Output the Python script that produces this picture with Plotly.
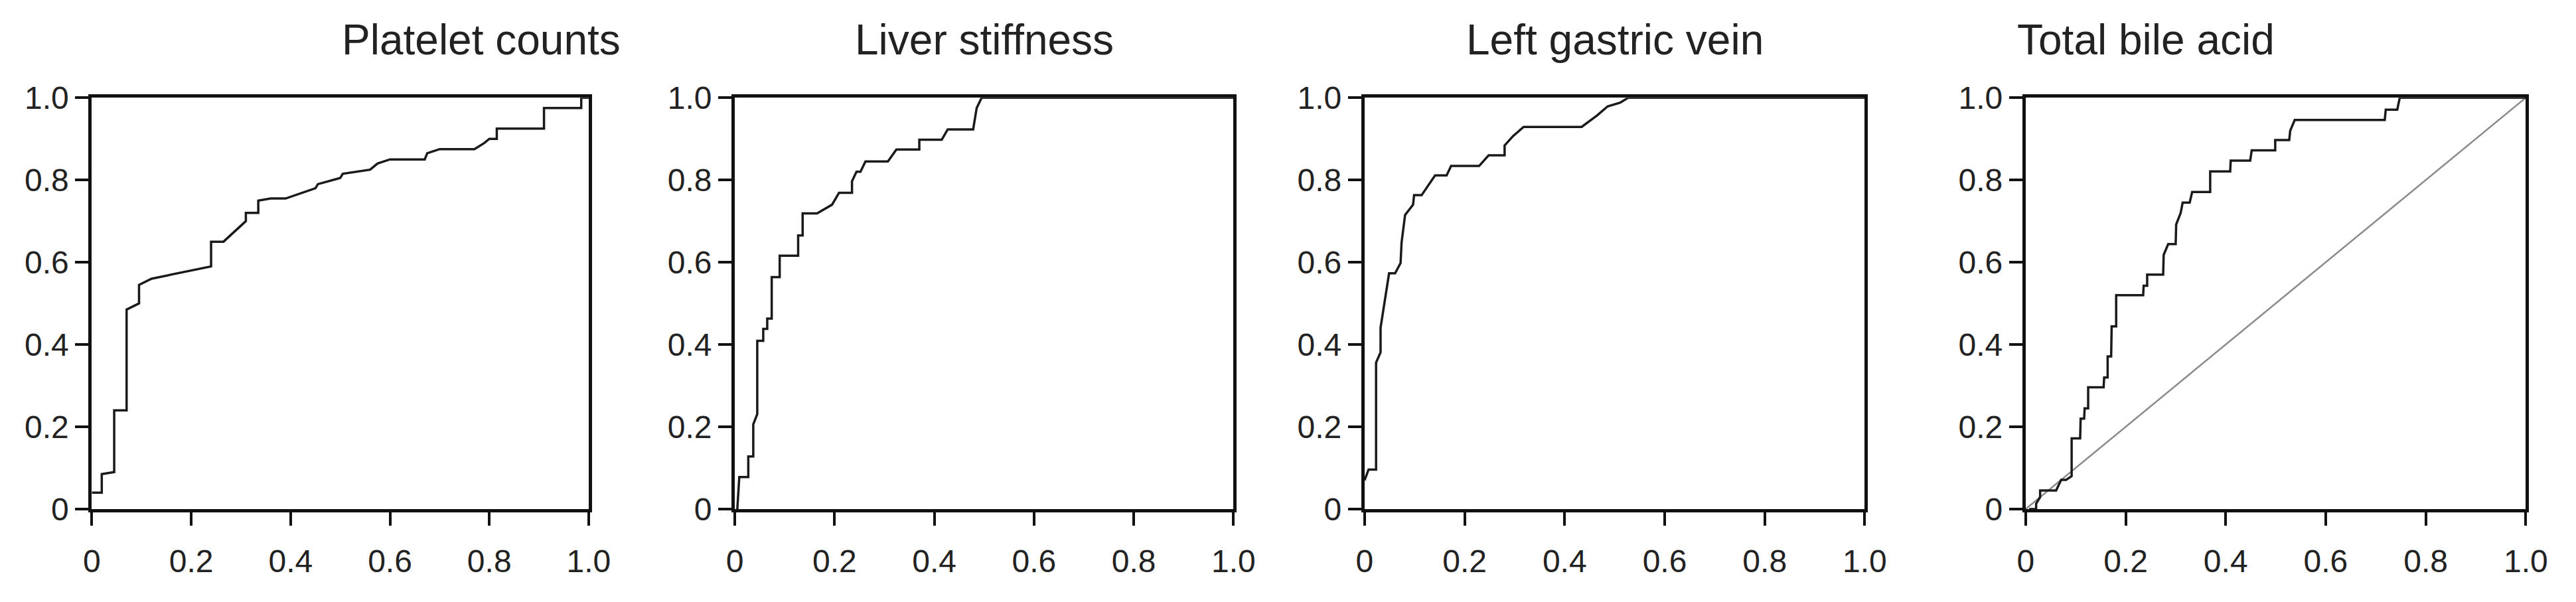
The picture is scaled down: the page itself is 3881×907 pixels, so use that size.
import plotly.graph_objects as go

titles = ["Platelet counts", "Liver stiffness", "Left gastric vein", "Total bile acid"]
tick_vals = [0, 0.2, 0.4, 0.6, 0.8, 1.0]
tick_text = ["0", "0.2", "0.4", "0.6", "0.8", "1.0"]

plt_x = [0,0.02,0.02,0.04,0.045,0.045,0.07,0.07,0.095,0.095,0.12,0.24,0.24,0.265,0.31,0.31,0.335,0.335,0.36,0.39,0.45,0.455,0.5,0.505,0.53,0.56,0.575,0.6,0.67,0.675,0.7,0.77,0.79,0.8,0.815,0.815,0.91,0.91,0.985,0.985,1]
plt_y = [0.04,0.04,0.085,0.09,0.09,0.24,0.24,0.485,0.5,0.545,0.56,0.59,0.65,0.65,0.7,0.72,0.72,0.75,0.755,0.755,0.78,0.79,0.805,0.815,0.82,0.825,0.84,0.85,0.85,0.865,0.875,0.875,0.89,0.9,0.9,0.925,0.925,0.975,0.975,1.0,1.0]

ls_x = [0.005,0.009,0.027,0.027,0.037,0.037,0.045,0.045,0.057,0.057,0.065,0.065,0.074,0.074,0.09,0.09,0.127,0.127,0.136,0.136,0.165,0.18,0.195,0.209,0.235,0.235,0.244,0.252,0.262,0.307,0.324,0.37,0.37,0.415,0.427,0.478,0.485,0.495,1]
ls_y = [0,0.078,0.078,0.128,0.128,0.206,0.231,0.409,0.409,0.438,0.438,0.463,0.463,0.564,0.564,0.616,0.616,0.665,0.665,0.719,0.719,0.73,0.74,0.769,0.769,0.797,0.82,0.82,0.845,0.845,0.874,0.874,0.898,0.898,0.923,0.923,0.975,1.0,1.0]

lgv_x = [0,0.008,0.023,0.023,0.032,0.032,0.049,0.061,0.072,0.074,0.081,0.097,0.099,0.114,0.141,0.164,0.173,0.229,0.248,0.28,0.28,0.297,0.318,0.434,0.465,0.486,0.511,0.527,1]
lgv_y = [0.07,0.096,0.096,0.356,0.381,0.441,0.573,0.573,0.598,0.648,0.715,0.74,0.763,0.763,0.811,0.811,0.834,0.834,0.86,0.86,0.884,0.907,0.929,0.929,0.957,0.979,0.988,1.0,1.0]

tba_x = [0.007,0.021,0.021,0.029,0.029,0.061,0.071,0.081,0.092,0.092,0.109,0.11,0.117,0.118,0.125,0.125,0.156,0.157,0.164,0.164,0.171,0.172,0.181,0.181,0.235,0.236,0.243,0.243,0.275,0.276,0.285,0.3,0.301,0.31,0.314,0.328,0.333,0.369,0.369,0.409,0.41,0.449,0.452,0.499,0.499,0.527,0.529,0.538,0.718,0.72,0.743,0.748,1]
tba_y = [0,0,0.013,0.029,0.045,0.045,0.071,0.071,0.08,0.172,0.172,0.22,0.22,0.245,0.245,0.296,0.296,0.32,0.32,0.371,0.371,0.444,0.444,0.52,0.52,0.543,0.543,0.57,0.57,0.618,0.644,0.644,0.692,0.72,0.745,0.745,0.771,0.771,0.821,0.821,0.847,0.847,0.872,0.872,0.897,0.897,0.92,0.946,0.946,0.971,0.971,1.0,1.0]

ref_x = [0, 1]
ref_y = [0, 1]

curves = [(plt_x, plt_y), (ls_x, ls_y), (lgv_x, lgv_y), (tba_x, tba_y)]
xdoms = [(0.0306, 0.2258), (0.2832, 0.4791), (0.5306, 0.7271), (0.7903, 0.9868)]
ydom = (0.1417, 0.8674)

fig = go.Figure()
font = dict(family="Liberation Sans, Arial, sans-serif", color="#222222")
for i, ((cx, cy), dom) in enumerate(zip(curves, xdoms)):
    n = "" if i == 0 else str(i + 1)
    xa, ya = "x" + n, "y" + n
    if i == 3:
        fig.add_trace(go.Scatter(x=ref_x, y=ref_y, mode="lines", xaxis=xa, yaxis=ya,
                                 line=dict(color="#8a8a8a", width=2.5), showlegend=False))
    fig.add_trace(go.Scatter(x=cx, y=cy, mode="lines", xaxis=xa, yaxis=ya,
                             line=dict(color="#1a1a1a", width=3.5), showlegend=False))
    ax = dict(range=[0, 1], domain=list(dom), showgrid=False, zeroline=False,
              showline=True, linecolor="#111111", linewidth=5, mirror=True,
              ticks="outside", ticklen=20, tickwidth=4, tickcolor="#111111",
              tickvals=tick_vals, ticktext=tick_text, tickfont=dict(size=48, **font),
              fixedrange=True)
    fig.layout["xaxis" + n] = dict(ax, anchor=ya, ticklabelstandoff=12)
    fig.layout["yaxis" + n] = dict(ax, domain=list(ydom), anchor=xa)
    fig.add_annotation(text=titles[i], xref="paper", yref="paper",
                       x=(dom[0] + dom[1]) / 2, y=0.969, yanchor="middle",
                       showarrow=False, font=dict(size=64, **font))

fig.update_layout(width=3881, height=907, margin=dict(l=0, r=0, t=0, b=0),
                  plot_bgcolor="white", paper_bgcolor="white")
fig.write_html("out.html")
